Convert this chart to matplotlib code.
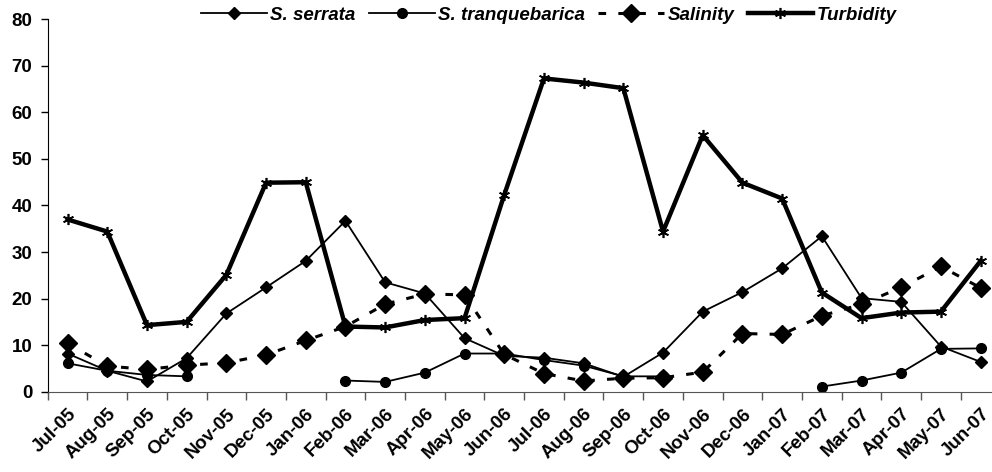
import numpy as np
import matplotlib
matplotlib.use("Agg")
import matplotlib.pyplot as plt

months = ["Jul-05", "Aug-05", "Sep-05", "Oct-05", "Nov-05", "Dec-05",
          "Jan-06", "Feb-06", "Mar-06", "Apr-06", "May-06", "Jun-06",
          "Jul-06", "Aug-06", "Sep-06", "Oct-06", "Nov-06", "Dec-06",
          "Jan-07", "Feb-07", "Mar-07", "Apr-07", "May-07", "Jun-07"]

s_serrata = [8.2, 4.5, 2.2, 7.2, 16.8, 22.4, 28.1, 36.7, 23.5, 21.1, 11.5, 7.7,
             7.3, 6.1, 3.2, 8.4, 17.2, 21.4, 26.5, 33.4, 20.1, 19.3, 9.7, 6.4]

nan = np.nan
s_tranq = [6.1, 4.5, 3.6, 3.3, nan, nan, nan, 2.4, 2.1, 4.1, 8.2, 8.2,
           6.8, 5.6, 3.3, 3.3, nan, nan, nan, 1.1, 2.4, 4.1, 9.2, 9.3]

salinity = [10.4, 5.5, 4.8, 5.7, 6.2, 7.9, 11.0, 14.0, 18.8, 21.0, 20.8, 8.0,
            3.9, 2.3, 2.9, 3.0, 4.2, 12.5, 12.3, 16.3, 18.8, 22.4, 26.9, 22.3]

turbidity = [37.0, 34.4, 14.3, 15.0, 25.1, 44.9, 45.0, 14.0, 13.8, 15.4, 15.8, 42.3,
             67.3, 66.4, 65.2, 34.4, 55.1, 44.9, 41.5, 21.3, 15.8, 17.0, 17.2, 28.1]

plt.rcParams['font.family'] = ['Liberation Sans', 'DejaVu Sans']

W, H = 992, 472
fig = plt.figure(figsize=(W / 100, H / 100), dpi=100)
left, right = 47.7, 1000.5
top, bottom = 19.3, 391.7
ax = fig.add_axes([left / W, 1 - bottom / H, (right - left) / W, (bottom - top) / H])

x = np.arange(len(months))

ax.plot(x, s_serrata, color="black", lw=1.3, marker="D", ms=6.5, label="S. serrata")
ax.plot(x, s_tranq, color="black", lw=1.3, marker="o", ms=7, label="S. tranquebarica")
ax.plot(x, salinity, color="black", lw=2.2, ls=(0, (2.5, 4)), marker="D", ms=9.5,
        label="Salinity")
ax.plot(x, turbidity, color="black", lw=3.2, marker=(6, 2, 0), ms=8, mew=1.2,
        label="Turbidity")

ax.set_xlim(-0.5, len(months) - 0.5)
ax.set_ylim(0, 80)
ax.set_yticks(range(0, 81, 10))
ax.set_xticks(np.arange(-0.5, len(months), 1.0))
ax.set_xticklabels([])
ax.set_xticks(x, minor=True)
ax.set_xticklabels(months, minor=True, rotation=45, ha="right", va="top",
                   rotation_mode="anchor", fontsize=13.5, fontweight="bold")
ax.tick_params(axis="x", which="minor", length=0, pad=10)
ax.tick_params(axis="x", which="major", length=6, width=1, color="#555555", direction="out")
ax.tick_params(axis="y", length=5, width=1, direction="out", labelsize=13.5, pad=6)
for lab in ax.get_yticklabels():
    lab.set_fontweight("bold")

for s in ["top", "right"]:
    ax.spines[s].set_visible(False)
ax.spines["bottom"].set_color("#555555")
ax.spines["left"].set_color("black")

leg = fig.legend(loc="center", bbox_to_anchor=(549 / W, 1 - 15 / H), ncol=4,
                 frameon=False, handlelength=3.5, handletextpad=0.2,
                 columnspacing=0.7, borderaxespad=0,
                 prop={"size": 13.5, "weight": "bold", "style": "italic"})

fig.savefig("out.png", dpi=100)
